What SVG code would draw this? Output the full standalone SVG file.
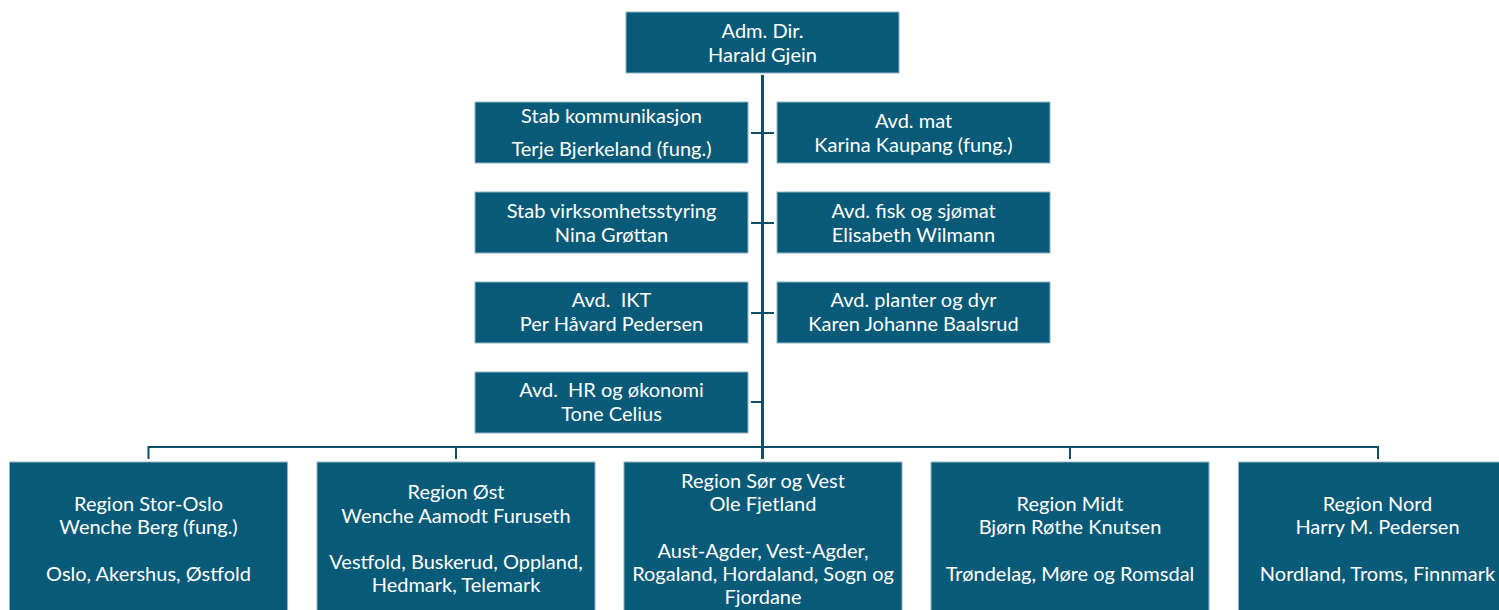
<svg xmlns="http://www.w3.org/2000/svg" width="1499" height="610" viewBox="0 0 1499 610">
<style>
.box{fill:#085a79;stroke:#8fb3c4;stroke-width:1}
.t{font-family:Lato,"Open Sans","Liberation Sans",sans-serif;font-size:20px;fill:#ffffff;text-anchor:middle;white-space:pre}
.ln{stroke:#0e4e68;fill:none}
</style>
<rect width="1499" height="610" fill="#ffffff"/>
<g id="connectors">
<line class="ln" x1="762.5" y1="75" x2="762.5" y2="459" stroke-width="3"/>
<line class="ln" x1="751" y1="133" x2="774" y2="133" stroke-width="2"/>
<line class="ln" x1="751" y1="223" x2="774" y2="223" stroke-width="2"/>
<line class="ln" x1="751" y1="313" x2="774" y2="313" stroke-width="2"/>
<line class="ln" x1="751" y1="402" x2="762" y2="402" stroke-width="2"/>
<path class="ln" d="M148.5 459 V447 H1378 V459 M456 447 V459 M1070 447 V459" stroke-width="2"/>
</g>
<g id="adm"><rect class="box" x="626" y="12" width="273" height="61"/><text class="t" x="762.5" y="38">Adm. Dir.</text><text class="t" x="762.5" y="62">Harald Gjein</text></g>
<g id="stab-kom"><rect class="box" x="475" y="102" width="273" height="61"/><text class="t" x="611.5" y="123">Stab kommunikasjon</text><text class="t" x="611.5" y="156">Terje Bjerkeland (fung.)</text></g>
<g id="avd-mat"><rect class="box" x="777" y="102" width="273" height="61"/><text class="t" x="913.5" y="128">Avd. mat</text><text class="t" x="913.5" y="152">Karina Kaupang (fung.)</text></g>
<g id="stab-virk"><rect class="box" x="475" y="192" width="273" height="61"/><text class="t" x="611.5" y="218">Stab virksomhetsstyring</text><text class="t" x="611.5" y="242">Nina Grøttan</text></g>
<g id="avd-fisk"><rect class="box" x="777" y="192" width="273" height="61"/><text class="t" x="913.5" y="218">Avd. fisk og sjømat</text><text class="t" x="913.5" y="242">Elisabeth Wilmann</text></g>
<g id="avd-ikt"><rect class="box" x="475" y="282" width="273" height="61"/><text class="t" x="611.5" y="307">Avd.  IKT</text><text class="t" x="611.5" y="331">Per Håvard Pedersen</text></g>
<g id="avd-planter"><rect class="box" x="777" y="282" width="273" height="61"/><text class="t" x="913.5" y="307">Avd. planter og dyr</text><text class="t" x="913.5" y="331">Karen Johanne Baalsrud</text></g>
<g id="avd-hr"><rect class="box" x="475" y="372" width="273" height="61"/><text class="t" x="611.5" y="397">Avd.  HR og økonomi</text><text class="t" x="611.5" y="421">Tone Celius</text></g>
<g id="region-stor-oslo"><rect class="box" x="9.5" y="462" width="278" height="160"/><text class="t" x="148.5" y="511">Region Stor-Oslo</text><text class="t" x="148.5" y="534">Wenche Berg (fung.)</text><text class="t" x="148.5" y="581">Oslo, Akershus, Østfold</text></g>
<g id="region-ost"><rect class="box" x="317" y="462" width="278" height="160"/><text class="t" x="456" y="499">Region Øst</text><text class="t" x="456" y="523">Wenche Aamodt Furuseth</text><text class="t" x="456" y="569">Vestfold, Buskerud, Oppland,</text><text class="t" x="456" y="592">Hedmark, Telemark</text></g>
<g id="region-sor-vest"><rect class="box" x="624" y="462" width="278" height="160"/><text class="t" x="763" y="488">Region Sør og Vest</text><text class="t" x="763" y="511">Ole Fjetland</text><text class="t" x="763" y="558">Aust-Agder, Vest-Agder,</text><text class="t" x="763" y="581">Rogaland, Hordaland, Sogn og</text><text class="t" x="763" y="604">Fjordane</text></g>
<g id="region-midt"><rect class="box" x="931" y="462" width="278" height="160"/><text class="t" x="1070" y="511">Region Midt</text><text class="t" x="1070" y="534">Bjørn Røthe Knutsen</text><text class="t" x="1070" y="581">Trøndelag, Møre og Romsdal</text></g>
<g id="region-nord"><rect class="box" x="1238.5" y="462" width="278" height="160"/><text class="t" x="1377.5" y="511">Region Nord</text><text class="t" x="1377.5" y="534">Harry M. Pedersen</text><text class="t" x="1377.5" y="581">Nordland, Troms, Finnmark</text></g>
</svg>
